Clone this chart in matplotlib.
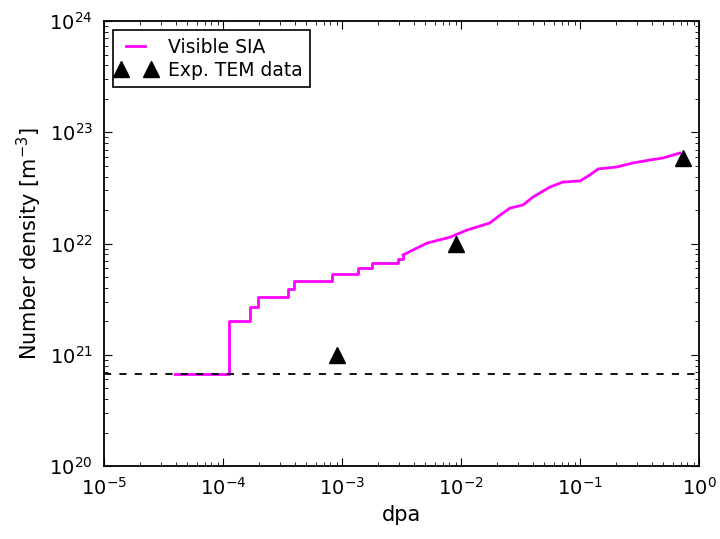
import matplotlib
matplotlib.use("Agg")
import matplotlib.pyplot as plt
from matplotlib.legend_handler import HandlerLine2D
import numpy as np

# Visible SIA simulation curve (staircase part)
step_dpa = [3.95e-5, 1.12e-4, 1.69e-4, 1.97e-4, 3.52e-4, 3.95e-4, 8.2e-4,
            1.36e-3, 1.79e-3, 2.96e-3, 3.26e-3]
step_density = [6.7e20, 2.0e21, 2.7e21, 3.3e21, 3.9e21, 4.6e21, 5.3e21,
                6.0e21, 6.7e21, 7.3e21, 7.9e21]

# Visible SIA simulation curve (smooth part)
smooth_dpa = [3.26e-3, 3.95e-3, 5.2e-3, 8.1e-3, 1.12e-2, 1.75e-2, 2.13e-2,
              2.58e-2, 3.32e-2, 4.03e-2, 5.6e-2, 7.2e-2, 0.1, 0.121, 0.142,
              0.205, 0.279, 0.387, 0.498, 0.69]
smooth_density = [7.9e21, 8.75e21, 1.01e22, 1.14e22, 1.32e22, 1.53e22, 1.80e22,
                  2.08e22, 2.22e22, 2.62e22, 3.22e22, 3.57e22, 3.65e22, 4.13e22,
                  4.68e22, 4.88e22, 5.3e22, 5.63e22, 5.87e22, 6.5e22]

# Experimental TEM data
tem_dpa = [9.0e-4, 9.1e-3, 0.73]
tem_density = [1.0e21, 1.0e22, 5.9e22]

# Detection limit (dashed line)
detection_limit = 6.7e20

fig = plt.figure(figsize=(7.2, 5.39), dpi=100)
ax = fig.add_axes([0.1444, 0.1354, 0.8264, 0.8256])

magenta = "#ff00ff"
ax.plot(step_dpa, step_density, color=magenta, lw=2, drawstyle="steps-post",
        label="Visible SIA")
ax.plot(smooth_dpa, smooth_density, color=magenta, lw=2)
tem, = ax.plot(tem_dpa, tem_density, linestyle="none", marker="^", color="black",
               markersize=11, label="Exp. TEM data")
ax.axhline(detection_limit, color="black", lw=1.3, linestyle=(0, (4, 4.5)))

ax.set_xscale("log")
ax.set_yscale("log")
ax.set_xlim(1e-5, 1e0)
ax.set_ylim(1e20, 1e24)

ax.set_xlabel("dpa", fontsize=15)
ax.set_ylabel("Number density [m$^{-3}$]", fontsize=15)

ax.tick_params(which="both", direction="in", top=True, right=True)
ax.tick_params(which="major", length=6, labelsize=14, pad=8)
ax.tick_params(which="minor", length=3)
for s in ax.spines.values():
    s.set_linewidth(1.3)

leg = ax.legend(loc="upper left", numpoints=2, fontsize=13.5, fancybox=False,
                framealpha=1, edgecolor="black", handlelength=1.6,
                handletextpad=0.9, borderaxespad=0.5, borderpad=0.4,
                labelspacing=0.2,
                handler_map={tem: HandlerLine2D(marker_pad=0, numpoints=2)})
leg.get_frame().set_linewidth(1.2)

fig.savefig("out.png", dpi=100)
